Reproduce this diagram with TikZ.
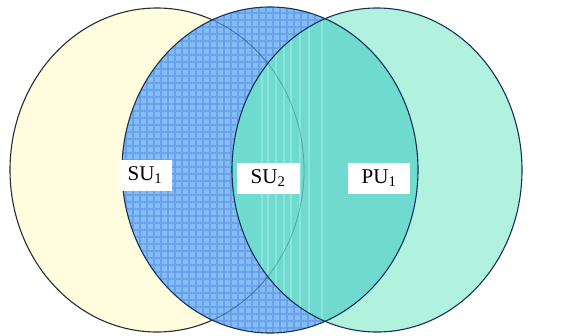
\documentclass[tikz,border=0pt]{standalone}
\usepackage{fontspec}
\setmainfont{Liberation Serif}
\usetikzlibrary{patterns.meta}
\definecolor{yel}{RGB}{255,253,222}
\definecolor{blu}{RGB}{128,190,245}
\definecolor{blugrid}{RGB}{108,160,232}
\definecolor{grn}{RGB}{176,242,222}
\definecolor{teal1}{RGB}{112,218,206}
\definecolor{stripe}{RGB}{138,230,220}
\definecolor{edge}{RGB}{40,45,50}
\definecolor{navy}{RGB}{20,50,90}
\tikzset{
  lbl/.style={fill=white, inner sep=0pt, minimum height=31pt, font=\fontsize{21}{23}\selectfont},
  outl/.style={draw=edge, line width=1.1pt}
}
\begin{document}
\begin{tikzpicture}[x=1pt,y=-1pt]
\useasboundingbox (0,0) rectangle (567,335);
% left
\fill[yel] (157,170) ellipse [x radius=147, y radius=162];
\draw[outl] (157,170) ellipse [x radius=147, y radius=162];
% middle
\fill[blu] (270,170) ellipse [x radius=148, y radius=163];
\fill[pattern={Hatch[distance=7pt, angle=0, line width=1.2pt]}, pattern color=blugrid] (270,170) ellipse [x radius=148, y radius=163];
\begin{scope}
\clip (270,170) ellipse [x radius=148, y radius=163];
\draw[navy, line width=0.9pt, opacity=0.5] (157,170) ellipse [x radius=147, y radius=162];
\end{scope}
% right
\fill[grn] (377,170) ellipse [x radius=145, y radius=162];
\begin{scope}
\clip (270,170) ellipse [x radius=148, y radius=163];
\fill[teal1] (377,170) ellipse [x radius=145, y radius=162];
\clip (377,170) ellipse [x radius=145, y radius=162];
\foreach \xx in {262,268,276,284,291,300,309,322}
  \draw[stripe, line width=1.4pt] (\xx,0) -- (\xx,335);
\draw[navy, line width=0.8pt, opacity=0.3] (157,170) ellipse [x radius=147, y radius=162];
\end{scope}
\draw[navy, line width=1.1pt] (270,170) ellipse [x radius=148, y radius=163];
\draw[navy, line width=1.1pt] (377,170) ellipse [x radius=145, y radius=162];
% labels
\node[lbl, minimum width=53pt] (su1) at (145,175) {SU\textsubscript{1}};
\node[lbl, minimum width=63pt] (su2) at (268,178) {SU\textsubscript{2}};
\node[lbl, minimum width=62pt] (pu1) at (379,178) {PU\textsubscript{1}};
\end{tikzpicture}
\end{document}
